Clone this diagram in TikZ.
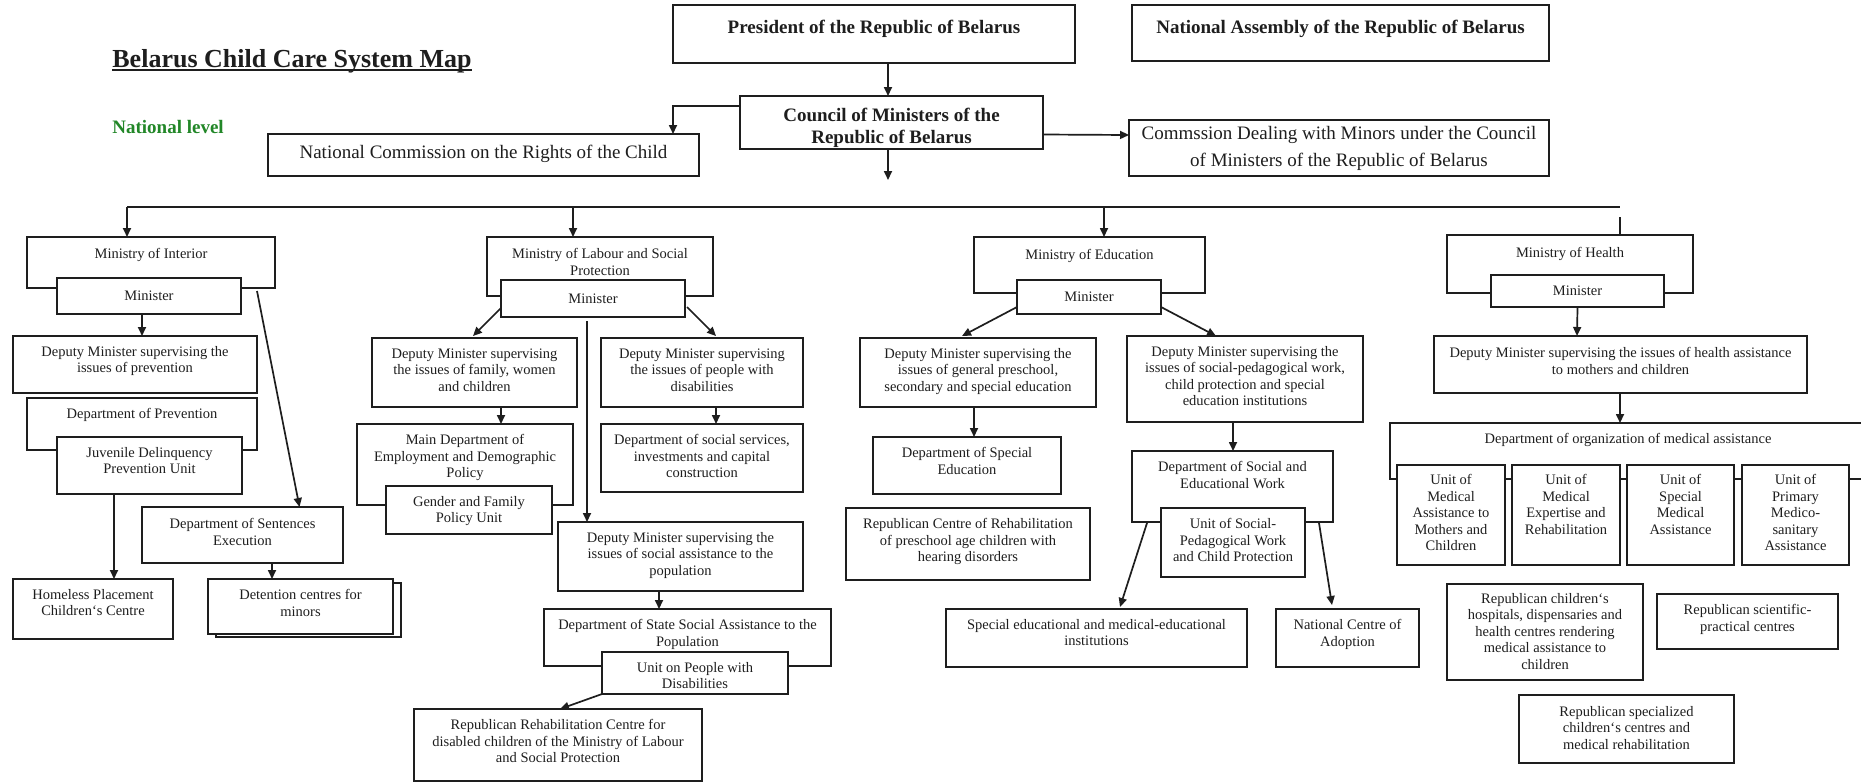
\documentclass[tikz,border=0pt]{standalone}
\usepackage{fontspec}
\setmainfont{Liberation Serif}
\usetikzlibrary{arrows.meta,calc}
\definecolor{lvlgreen}{RGB}{34,135,40}
\definecolor{ink}{RGB}{30,30,30}
\tikzset{
  box/.style={draw=ink, line width=0.7pt, fill=white, inner sep=0pt, outer sep=0pt},
  txt/.style={align=center, inner sep=0pt, font=\fontsize{7.25}{8.25}\selectfont, text=ink},
  bigtxt/.style={txt, font=\fontsize{9.5}{13.5}\selectfont},
  boldtxt/.style={txt, font=\fontsize{9.5}{11}\selectfont\bfseries},
  arr/.style={draw=ink, line width=0.85pt, -{Triangle[length=4.5pt,width=4pt]}},
  ln/.style={draw=ink, line width=0.85pt},
}
\newcommand\bx[5]{\node[box, minimum width={(#4-#2)*0.5pt}, minimum height={(#5-#3)*0.5pt}] (#1) at ({(#2+#4)/2},{(#3+#5)/2}) {};}
\newcommand\tx[3][10]{\node[txt, anchor=north] at ($(#2.north)+(0,#1)$) {#3};}
\begin{document}
\begin{tikzpicture}[x=0.5pt,y=-0.5pt]
\useasboundingbox (0,0) rectangle (1861,782);
\fill[white] (0,0) rectangle (1861,782);

% title
\node[inner sep=0pt, anchor=base west, font=\fontsize{13}{15}\selectfont\bfseries, text=ink] (title) at (112,67) {Belarus Child Care System Map};
\draw[ink, line width=1.15pt] ($(title.base west)+(0,3)$) -- ($(title.base east)+(0,3)$);
\node[inner sep=0pt, anchor=base west, font=\fontsize{9.5}{11}\selectfont\bfseries, text=lvlgreen] (level) at (112,133) {National level};

% top level
\bx{pres}{673}{5}{1075}{63}
\node[boldtxt, anchor=north] at ($(pres.north)+(0,15)$) {President of the Republic of Belarus};
\bx{nass}{1132}{5}{1549}{61}
\node[boldtxt, anchor=north] at ($(nass.north)+(0,15)$) {National Assembly of the Republic of Belarus};
\bx{council}{740}{96}{1043}{149}
\node[boldtxt, anchor=north] at ($(council.north)+(0,12)$) {Council of Ministers of the\\Republic of Belarus};
\bx{nc}{268}{134}{699}{176}
\node[bigtxt] at ($(nc.center)+(0,-1)$) {National Commission on the Rights of the Child};
\bx{comm}{1129}{120}{1549}{176}
\node[bigtxt] at ($(comm.center)+(0,0)$) {Commssion Dealing with Minors under the Council\\of Ministers of the Republic of Belarus};

\draw[arr] ($(pres.south)+(14,0)$) -- ($(council.north)+(-3.5,0)$);
\draw[arr] ($(council.north west)+(0,10)$) -| ($(nc.north east)+(-26,0)$);
\draw[arr] ($(council.east)+(0,12)$) -- ($(comm.west)+(0,-13)$);
\coordinate (cdn) at (888,180);
\draw[arr] (council.south -| cdn) -- (cdn);

% bus
\coordinate (b1) at (127,207);
\coordinate (b2) at (573,207);
\coordinate (b3) at (1104,207);
\coordinate (b4) at (1620,207);
\coordinate (b4s) at (1620,217);
\draw[ln] (b1) -- (b4);

% ===== Interior =====
\bx{mint}{27}{237}{275}{288}
\tx[11]{mint}{Ministry of Interior}
\bx{imin}{57}{278}{241}{314}
\node[txt] at (imin.center) {Minister};
\bx{idep}{13}{336}{257}{393}
\tx{idep}{Deputy Minister supervising the\\issues of prevention}
\bx{iprev}{27}{398}{257}{450}
\tx{iprev}{Department of Prevention}
\bx{ijuv}{57}{437}{242}{494}
\tx{ijuv}{Juvenile Delinquency\\Prevention Unit}
\bx{isent}{142}{507}{343}{563}
\tx[11]{isent}{Department of Sentences\\Execution}
\bx{ihom}{13}{579}{173}{639}
\tx{ihom}{Homeless Placement\\Children`s Centre}
\bx{idetb}{216}{583}{401}{637}
\bx{idet}{208}{579}{393}{634}
\tx{idet}{Detention centres for\\minors}

\draw[arr] (b1) -- (b1 |- mint.north);
\draw[arr] ($(imin.south)+(-7,0)$) -- ($(idep.north)+(7,0)$);
\draw[arr] ($(imin.east)+(16,-5)$) -- ($(isent.north)+(57,0)$);
\draw[arr] ($(ijuv.south)+(-35.5,0)$) -- ($(ihom.north)+(21,0)$);
\draw[arr] ($(isent.south)+(29.5,0)$) -- ($(idet.north)+(-28.5,0)$);

% ===== Labour =====
\bx{mlab}{487}{237}{713}{296}
\tx[11]{mlab}{Ministry of Labour and Social\\Protection}
\bx{lmin}{501}{280}{685}{317}
\node[txt] at (lmin.center) {Minister};
\bx{dfam}{372}{338}{577}{407}
\tx{dfam}{Deputy Minister supervising\\the issues of family, women\\and children}
\bx{ddis}{601}{338}{803}{407}
\tx{ddis}{Deputy Minister supervising\\the issues of people with\\disabilities}
\bx{lmain}{357}{424}{573}{505}
\tx{lmain}{Main Department of\\Employment and Demographic\\Policy}
\bx{lgen}{386}{486}{552}{534}
\tx{lgen}{Gender and Family\\Policy Unit}
\bx{ldss}{601}{424}{803}{492}
\tx{ldss}{Department of social services,\\investments and capital\\construction}
\bx{dsa}{558}{522}{803}{591}
\tx{dsa}{Deputy Minister supervising the\\issues of social assistance to the\\population}
\bx{dst}{544}{609}{831}{666}
\tx{dst}{Department of State Social Assistance to the\\Population}
\bx{upd}{602}{652}{788}{694}
\tx{upd}{Unit on People with\\Disabilities}
\bx{rrc}{414}{709}{702}{781}
\tx{rrc}{Republican Rehabilitation Centre for\\disabled children of the Ministry of Labour\\and Social Protection}

\draw[arr] (b2) -- (b2 |- mlab.north);
\draw[arr] ($(lmin.south west)+(0,-9)$) -- ($(dfam.north)+(-1.5,-2)$);
\draw[arr] ($(lmin.south east)+(2,-10)$) -- ($(ddis.north)+(14,-2)$);
\coordinate (lv) at ($(lmin.south)+(-6,4)$);
\draw[arr] (lv) -- (lv |- dsa.north);
\draw[arr] ($(dfam.south)+(26.5,0)$) -- ($(lmain.north)+(36,0)$);
\draw[arr] ($(ddis.south)+(14,0)$) -- ($(ldss.north)+(14,0)$);
\draw[arr] ($(dsa.south)+(-21.5,0)$) -- ($(dst.north)+(-28.5,0)$);
\draw[arr] (upd.south west) -- ($(rrc.north)+(2,0)$);

% ===== Education =====
\bx{medu}{974}{237}{1205}{293}
\tx[12]{medu}{Ministry of Education}
\bx{emin}{1017}{280}{1161}{314}
\node[txt] at (emin.center) {Minister};
\bx{dgen}{860}{338}{1096}{407}
\tx{dgen}{Deputy Minister supervising the\\issues of general preschool,\\secondary and special education}
\bx{dsp}{1127}{336}{1363}{422}
\tx{dsp}{Deputy Minister supervising the\\issues of social-pedagogical work,\\child protection and special\\education institutions}
\bx{dse}{873}{437}{1061}{494}
\tx{dse}{Department of Special\\Education}
\bx{rch}{846}{508}{1090}{580}
\tx{rch}{Republican Centre of Rehabilitation\\of preschool age children with\\hearing disorders}
\bx{dsew}{1132}{451}{1333}{522}
\tx{dsew}{Department of Social and\\Educational Work}
\bx{usp}{1161}{508}{1305}{577}
\tx{usp}{Unit of Social-\\Pedagogical Work\\and Child Protection}
\bx{sei}{946}{609}{1247}{667}
\tx{sei}{Special educational and medical-educational\\institutions}
\bx{nca}{1276}{609}{1419}{667}
\tx{nca}{National Centre of\\Adoption}

\draw[arr] (b3) -- (b3 |- medu.north);
\draw[arr] ($(emin.south west)+(0,-7)$) -- ($(dgen.north)+(-16,-2)$);
\draw[arr] ($(emin.south east)+(0,-7)$) -- ($(dsp.north)+(-29,0)$);
\draw[arr] ($(dgen.south)+(-4,0)$) -- ($(dse.north)+(7,0)$);
\draw[arr] ($(dsp.south)+(-12,0)$) -- ($(dsew.north)+(0.5,0)$);
\draw[arr] ($(dsew.south west)+(15,1)$) -- ($(sei.north)+(23.5,-2)$);
\draw[arr] ($(dsew.south east)+(-14,1)$) -- ($(nca.north)+(-15.5,-4)$);

% ===== Health =====
\bx{mhea}{1447}{235}{1693}{293}
\tx[12]{mhea}{Ministry of Health}
\bx{hmin}{1491}{275}{1664}{307}
\node[txt] at (hmin.center) {Minister};
\bx{hdep}{1434}{336}{1807}{393}
\tx[11]{hdep}{Deputy Minister supervising the issues of health assistance\\to mothers and children}
\bx{dorg}{1390}{423}{1866}{479}
\tx{dorg}{Department of organization of medical assistance}
\bx{u1}{1397}{465}{1505}{565}
\tx[9]{u1}{Unit of\\Medical\\Assistance to\\Mothers and\\Children}
\bx{u2}{1512}{465}{1620}{565}
\tx[9]{u2}{Unit of\\Medical\\Expertise and\\Rehabilitation}
\bx{u3}{1627}{465}{1734}{565}
\tx[9]{u3}{Unit of\\Special\\Medical\\Assistance}
\bx{u4}{1742}{465}{1849}{565}
\tx[9]{u4}{Unit of\\Primary\\Medico-\\sanitary\\Assistance}
\bx{hosp}{1447}{584}{1643}{680}
\tx[9]{hosp}{Republican children`s\\hospitals, dispensaries and\\health centres rendering\\medical assistance to\\children}
\bx{sci}{1657}{594}{1838}{649}
\tx{sci}{Republican scientific-\\practical centres}
\bx{spec}{1519}{695}{1734}{763}
\tx[11]{spec}{Republican specialized\\children`s centres and\\medical rehabilitation}

\draw[ln] (b4s) -- (b4s |- mhea.north);
\draw[arr] (hmin.south) -- ($(hdep.north)+(-43.5,0)$);
\draw[arr] ($(hdep.south)+(-0.5,0)$) -- ($(dorg.north)+(-8,0)$);
\end{tikzpicture}
\end{document}
